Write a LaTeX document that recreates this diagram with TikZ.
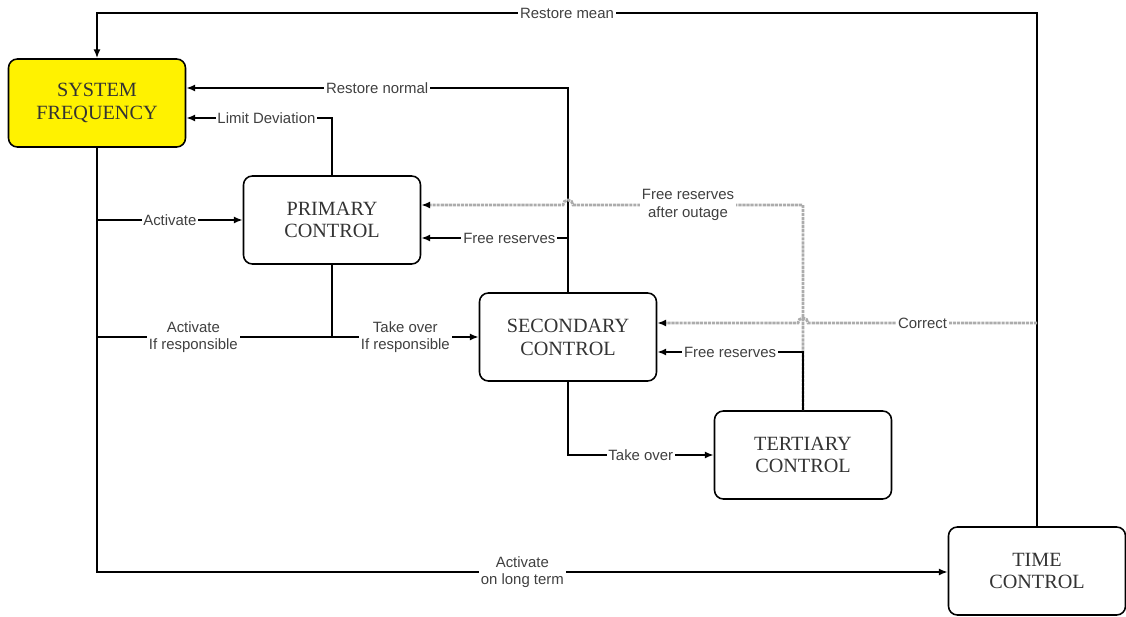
\documentclass[tikz,border=0pt]{standalone}
\usepackage{fontspec}
\setmainfont{Liberation Serif}
\newfontfamily\lblfont{Liberation Sans}
\usetikzlibrary{arrows.meta}

\tikzset{
  block/.style={draw,rounded corners=5pt,line width=0.9pt,minimum width=3.54cm,
    minimum height=1.76cm,align=center,text=black!80,
    font=\fontsize{11.5}{13}\selectfont},
  EdgeStyle/.style={line width=1pt,-{Latex[length=5pt,width=4pt]}},
  DashStyle/.style={line width=1.6pt,gray!65,dash pattern=on 1.8pt off 0.5pt,
    -{Latex[length=5pt,width=4pt,color=black]}},
  lbl/.style={fill=white,inner sep=1pt,align=center,text=black!75,
    font=\lblfont\fontsize{8.5}{10}\selectfont}
}

\begin{document}
\begin{tikzpicture}[x=0.02cm,y=-0.02cm]
  \useasboundingbox (0,0) rectangle (1126,617);

  \node[block,fill=yellow] (sysfreq) at (97,103) {SYSTEM\\FREQUENCY};
  \node[block] (primary)   at (332,220)  {PRIMARY\\CONTROL};
  \node[block] (secondary) at (568,337)  {SECONDARY\\CONTROL};
  \node[block] (tertiary)  at (803,455)  {TERTIARY\\CONTROL};
  \node[block] (timectl)   at (1037,571) {TIME\\CONTROL};

  % levels of the horizontal runs
  \coordinate (top)    at (0,13);
  \coordinate (rnorm)  at (0,88);
  \coordinate (limit)  at (0,118);
  \coordinate (outage) at (0,205);
  \coordinate (free1)  at (0,238);
  \coordinate (corr)   at (0,323);
  \coordinate (free2)  at (0,352);
  \coordinate (bottom) at (0,572);

  \draw[EdgeStyle] (timectl.north) -- (timectl.north |- top)
    -- node[lbl]{Restore mean} (sysfreq.north |- top) -- (sysfreq.north);
  \draw[EdgeStyle] (secondary.north) -- (secondary.north |- rnorm)
    -- node[lbl]{Restore normal} (sysfreq.east |- rnorm);
  \draw[EdgeStyle] (primary.north) -- (primary.north |- limit)
    -- node[lbl,pos=0.45]{Limit Deviation} (sysfreq.east |- limit);
  \draw[EdgeStyle] (secondary.north |- free1)
    -- node[lbl,pos=0.4]{Free reserves} (primary.east |- free1);

  \draw[EdgeStyle] (sysfreq.south) -- (sysfreq.south |- bottom)
    -- node[lbl]{Activate\\on long term} (timectl.west |- bottom);
  \draw[EdgeStyle] (sysfreq.south |- primary.west)
    -- node[lbl]{Activate} (primary.west);
  \draw[line width=1pt] (sysfreq.south |- secondary.west)
    -- node[lbl,pos=0.41]{Activate\\If responsible} (primary.south |- secondary.west);
  \draw[EdgeStyle] (primary.south) -- (primary.south |- secondary.west)
    -- node[lbl]{Take over\\If responsible} (secondary.west);

  \draw[EdgeStyle] (secondary.south) -- (secondary.south |- tertiary.west)
    -- node[lbl]{Take over} (tertiary.west);

  \draw[DashStyle] (tertiary.north) -- (tertiary.north |- outage)
    -- node[lbl]{Free reserves\\after outage} (573,205)
    arc[start angle=0,end angle=180,radius=0.1cm] -- (primary.east |- outage);
  \draw[DashStyle] (timectl.north |- corr)
    -- node[lbl]{Correct} (808,323)
    arc[start angle=0,end angle=180,radius=0.1cm] -- (secondary.east |- corr);
  \draw[EdgeStyle] (tertiary.north) -- (tertiary.north |- free2)
    -- node[lbl]{Free reserves} (secondary.east |- free2);
\end{tikzpicture}
\end{document}
